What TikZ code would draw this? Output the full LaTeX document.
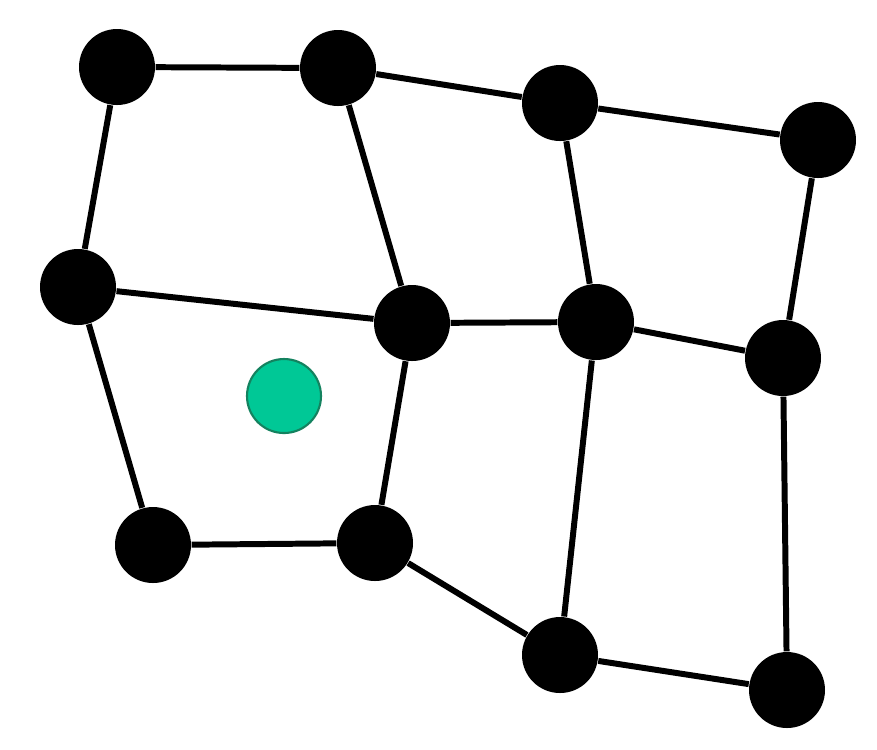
\documentclass[tikz,border=0pt]{standalone}
\definecolor{puntoverde}{RGB}{0,200,150}
\definecolor{bordeverde}{RGB}{20,130,95}
\tikzset{
  vertice/.style={circle, fill=black, minimum size=0.76cm, inner sep=0pt},
  arista/.style={line width=1.7pt}
}
\begin{document}
\begin{tikzpicture}
  \useasboundingbox (0,0) rectangle (8.77,-7.49);
  % fila de arriba
  \node[vertice] (A) at (1.17,-0.67) {};
  \node[vertice] (B) at (3.38,-0.68) {};
  \node[vertice] (C) at (5.60,-1.03) {};
  \node[vertice] (D) at (8.18,-1.40) {};
  % fila del medio
  \node[vertice] (E) at (0.78,-2.87) {};
  \node[vertice] (F) at (4.12,-3.23) {};
  \node[vertice] (G) at (5.96,-3.22) {};
  \node[vertice] (H) at (7.83,-3.58) {};
  % fila de abajo
  \node[vertice] (I) at (1.53,-5.45) {};
  \node[vertice] (J) at (3.75,-5.43) {};
  \node[vertice] (K) at (5.60,-6.55) {};
  \node[vertice] (L) at (7.87,-6.90) {};
  % aristas
  \draw[arista] (A) -- (B) -- (C) -- (D);
  \draw[arista] (E) -- (F) -- (G) -- (H);
  \draw[arista] (I) -- (J) -- (K) -- (L);
  \draw[arista] (A) -- (E) -- (I);
  \draw[arista] (B) -- (F) -- (J);
  \draw[arista] (C) -- (G) -- (K);
  \draw[arista] (D) -- (H) -- (L);
  % punto verde
  \node[circle, fill=puntoverde, draw=bordeverde, line width=0.6pt,
        minimum size=0.74cm, inner sep=0pt] (P) at (2.84,-3.96) {};
\end{tikzpicture}
\end{document}
